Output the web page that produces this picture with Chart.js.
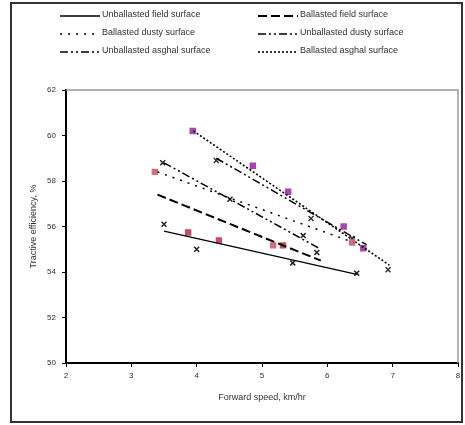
<!DOCTYPE html>
<html lang="en">
<head>
  <meta charset="UTF-8" />
  <title>Tractive efficiency vs forward speed</title>
  <script src="https://cdn.jsdelivr.net/npm/chart.js"></script>
  <style>
    html, body { margin: 0; padding: 0; background: #fff; }
    #wrap { width: 465px; height: 425px; position: relative; }
  </style>
</head>
<body>
  <div id="wrap"><canvas id="chart" width="465" height="425"></canvas></div>

  <script>
    // legend names, in the order of the reference legend
    const seriesNames = [
      'Unballasted field surface', 'Ballasted field surface',
      'Ballasted dusty surface', 'Unballasted dusty surface',
      'Unballasted asghal surface', 'Ballasted asghal surface'
    ];

    // trend line end points (speed km/hr, efficiency %)
    const lineX = [[3.5, 6.45], [3.4, 5.9], [3.4, 6.4], [3.5, 5.9], [4.3, 6.6], [3.95, 6.95]];
    const lineY = [[55.8, 53.9], [57.4, 54.5], [58.4, 55.3], [58.8, 55.0], [59.0, 55.2], [60.2, 54.3]];

    // measured points per series
    const pointX = [
      [3.5, 4.0, 5.47, 6.45],
      [3.87, 4.34, 5.32],
      [3.36, 5.17, 6.38],
      [3.48, 4.51, 5.63, 5.84],
      [4.3, 5.75, 6.38, 6.93],
      [3.94, 4.86, 5.4, 6.25, 6.55]
    ];
    const pointY = [
      [56.1, 55.0, 54.4, 53.95],
      [55.74, 55.39, 55.17],
      [58.4, 55.17, 55.3],
      [58.8, 57.2, 55.6, 54.86],
      [58.9, 56.35, 55.48, 54.1],
      [60.2, 58.67, 57.53, 56.0, 55.04]
    ];

    const xTicks = [2, 3, 4, 5, 6, 7, 8];
    const yTicks = [50, 52, 54, 56, 58, 60, 62];

    const lineDash = [[], [9, 4], [2, 6], [8, 3, 2, 3, 2, 3], [8, 3, 2, 3, 2, 3], [2, 2]];
    const lineWidth = [1.3, 2, 1.5, 1.5, 1.5, 1.6];
    const markStyle = ['crossRot', 'rect', 'rect', 'crossRot', 'crossRot', 'rect'];
    const markColor = ['#222', '#c0506a', '#d07080', '#222', '#333', '#a845b0'];

    const datasets = [];
    seriesNames.forEach((name, i) => {
      datasets.push({
        label: name,
        isTrend: true,
        data: lineX[i].map((x, j) => ({ x, y: lineY[i][j] })),
        showLine: true,
        borderColor: '#000',
        borderWidth: lineWidth[i],
        borderDash: lineDash[i],
        pointRadius: 0,
        fill: false
      });
      datasets.push({
        label: name + ' (data)',
        data: pointX[i].map((x, j) => ({ x, y: pointY[i][j] })),
        showLine: false,
        pointStyle: markStyle[i],
        pointRadius: 3.5,
        pointBorderWidth: 1.5,
        pointBackgroundColor: markColor[i],
        pointBorderColor: markColor[i]
      });
    });

    const frame = {
      id: 'frame',
      afterDraw(chart) {
        const ctx = chart.ctx;
        const a = chart.chartArea;
        ctx.save();
        // plot area top and right edges
        ctx.strokeStyle = '#999';
        ctx.lineWidth = 1.5;
        ctx.beginPath();
        ctx.moveTo(a.left, a.top);
        ctx.lineTo(a.right, a.top);
        ctx.lineTo(a.right, a.bottom);
        ctx.stroke();
        // outer border
        ctx.strokeStyle = '#333';
        ctx.lineWidth = 2;
        ctx.strokeRect(11, 3, 451, 419);

        // legend, two columns by three rows
        ctx.font = '9px "Liberation Sans", Arial, sans-serif';
        ctx.fillStyle = '#333';
        ctx.textBaseline = 'middle';
        const trend = chart.data.datasets.filter(d => d.isTrend);
        trend.forEach((d, k) => {
          const col = k % 2, row = Math.floor(k / 2);
          const x0 = col ? 258 : 60;
          const y0 = 15 + row * 18;
          ctx.strokeStyle = '#000';
          ctx.lineWidth = d.borderWidth;
          ctx.setLineDash(d.borderDash);
          ctx.beginPath();
          ctx.moveTo(x0, y0 + 1);
          ctx.lineTo(x0 + 40, y0 + 1);
          ctx.stroke();
          ctx.setLineDash([]);
          ctx.fillText(d.label, x0 + 42, y0);
        });
        ctx.restore();
      }
    };

    const tickFont = { family: '"Liberation Sans", Arial, sans-serif', size: 8 };

    new Chart(document.getElementById('chart'), {
      type: 'scatter',
      data: { datasets },
      options: {
        responsive: false,
        animation: false,
        layout: { padding: { left: 24, right: 7, top: 90, bottom: 18 } },
        plugins: { legend: { display: false }, tooltip: { enabled: false } },
        scales: {
          x: {
            type: 'linear', min: 2, max: 8,
            afterBuildTicks: s => { s.ticks = xTicks.map(v => ({ value: v })); },
            afterFit: s => { s.height = 44; },
            grid: { drawOnChartArea: false, drawTicks: true, tickLength: 4, color: '#000' },
            border: { color: '#000', width: 2 },
            ticks: { color: '#333', font: tickFont, padding: 4, maxRotation: 0 },
            title: { display: true, text: 'Forward speed, km/hr', color: '#333', font: { ...tickFont, size: 9 }, padding: { top: 8 } }
          },
          y: {
            type: 'linear', min: 50, max: 62,
            afterBuildTicks: s => { s.ticks = yTicks.map(v => ({ value: v })); },
            afterFit: s => { s.width = 42; },
            grid: { drawOnChartArea: false, drawTicks: true, tickLength: 4, color: '#000' },
            border: { color: '#000', width: 2 },
            ticks: { color: '#333', font: tickFont, padding: 6 },
            title: { display: true, text: 'Tractive efficiency, %', color: '#333', font: { ...tickFont, size: 9 }, padding: { bottom: 6 } }
          }
        }
      },
      plugins: [frame]
    });
  </script>
</body>
</html>
